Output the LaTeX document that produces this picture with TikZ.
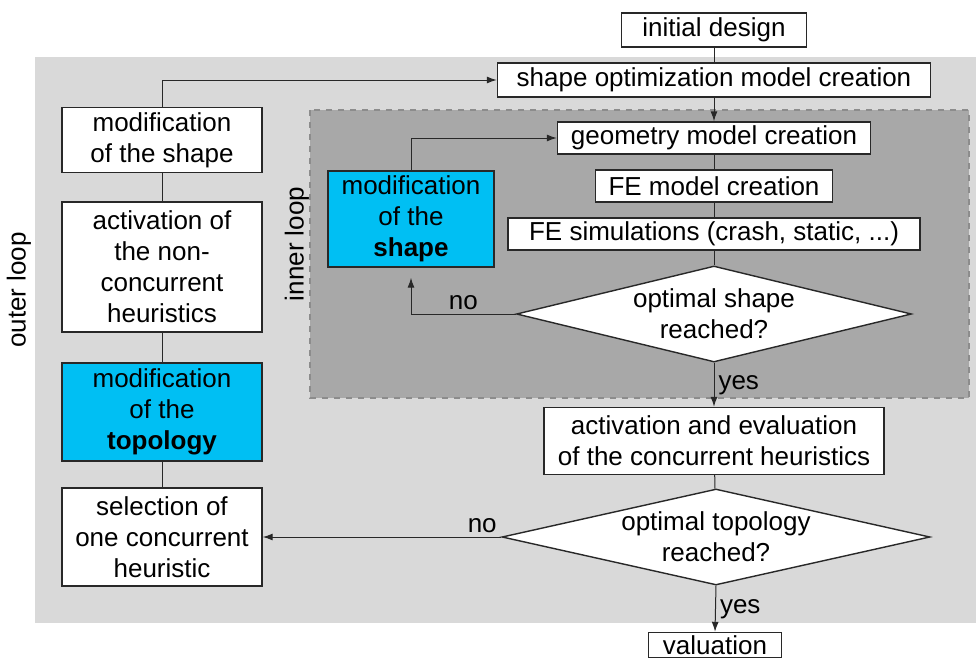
\documentclass[tikz,border=0pt]{standalone}
\usepackage{fontspec}
\setmainfont{Liberation Sans}
\usetikzlibrary{shapes.geometric,arrows.meta}
\definecolor{mylightgray}{RGB}{217,217,217}
\definecolor{mydarkgray}{RGB}{168,168,168}
\definecolor{mydashgray}{RGB}{140,140,140}
\definecolor{mycyan}{RGB}{0,191,243}
\definecolor{myline}{RGB}{40,40,40}
\newcommand{\BOXLW}{0.7pt}
\newcommand{\ARRLW}{0.5pt}

\begin{document}
\begin{tikzpicture}[x=0.5pt,y=-0.5pt,
	font=\fontsize{13}{15.5}\selectfont,
	>={Latex[length=5pt,width=3.5pt]},
	flowbox/.style={draw=myline,line width=\BOXLW,fill=white,inner sep=0pt,align=center},
	heurbox/.style={flowbox,fill=mycyan},
	decision/.style={diamond,aspect=4.3,draw=myline,line width=\BOXLW,fill=white,inner sep=0pt,align=center},
	flowline/.style={draw=myline,line width=\ARRLW},
	answer/.style={inner sep=2pt}]
	
	\useasboundingbox (0,0) rectangle (976,659);
	
	%% loop regions
	\fill[mylightgray] (35,57) rectangle (976,623);
	\draw[fill=mydarkgray,draw=mydashgray,dashed,line width=0.6pt] (310,110) rectangle (969,398);
	
	\node (outerlbl) [rotate=90] at (19,290) {outer loop};
	\node (innerlbl) [rotate=90] at (297,244) {inner loop};
	
	%% main column
	\node (init)      [flowbox,minimum width=92.5pt,minimum height=17pt]  at (714,30)  {initial design};
	\node (shapeopt)  [flowbox,minimum width=216.5pt,minimum height=17pt] at (714,80)  {shape optimization model creation};
	\node (geom)      [flowbox,minimum width=156.5pt,minimum height=16pt] at (714,138) {geometry model creation};
	\node (femodel)   [flowbox,minimum width=118.5pt,minimum height=16pt] at (714,186) {FE model creation};
	\node (fesim)     [flowbox,minimum width=206pt,minimum height=16pt]   at (714,234) {FE simulations (crash, static, ...)};
	\node (optshape)  [decision,minimum width=197.5pt,minimum height=48pt] at (714,314) {optimal shape\\reached?};
	\node (acteval)   [flowbox,minimum width=170pt,minimum height=33.5pt] at (714,441) {activation and evaluation\\of the concurrent heuristics};
	\node (opttopo)   [decision,minimum width=214pt,minimum height=48pt]  at (716,537) {optimal topology\\reached?};
	\node (valuation) [flowbox,minimum width=66.5pt,minimum height=12.5pt] at (715,645) {valuation};
	
	%% inner loop modification
	\node (innershape) [heurbox,minimum width=83pt,minimum height=48pt] at (411,219) {modification\\of the\\\textbf{shape}};
	
	%% left column
	\node (modshape) [flowbox,minimum width=100pt,minimum height=32.5pt] at (162,140) {modification\\of the shape};
	\node (actnon)   [flowbox,minimum width=100pt,minimum height=65pt]   at (162,267) {activation of\\the non-\\concurrent\\heuristics};
	\node (modtopo)  [heurbox,minimum width=100pt,minimum height=49pt]   at (162,412) {modification\\of the\\\textbf{topology}};
	\node (selone)   [flowbox,minimum width=100pt,minimum height=49pt]   at (162,537) {selection of\\one concurrent\\heuristic};
	
	%% connectors
	\draw[flowline] (init) -- (shapeopt);
	\draw[flowline,->] (shapeopt) -- (geom);
	\draw[flowline] (geom) -- (femodel);
	\draw[flowline] (femodel) -- (fesim);
	\draw[flowline] (fesim) -- (optshape);
	\draw[flowline,->,shorten >=5pt] (optshape.west) -| (innershape.south) node [pos=0.25, above, answer] (noshape) {no};
	\draw[flowline,->] (innershape.north) |- (geom.west);
	\draw[flowline,->] (optshape.south) -- (acteval.north) node [midway, right, answer] (yesshape) {yes};
	\draw[flowline] (acteval) -- (opttopo);
	\draw[flowline,->] (opttopo.west) -- (selone.east) node [pos=0.08, above, answer] (notopo) {no};
	\draw[flowline,->] (opttopo.south) -- (valuation.north) node [midway, right, answer] (yestopo) {yes};
	\draw[flowline] (selone) -- (modtopo);
	\draw[flowline] (modtopo) -- (actnon);
	\draw[flowline] (actnon) -- (modshape);
	\draw[flowline,->] (modshape.north) |- (shapeopt.west);
	
\end{tikzpicture}
\end{document}
